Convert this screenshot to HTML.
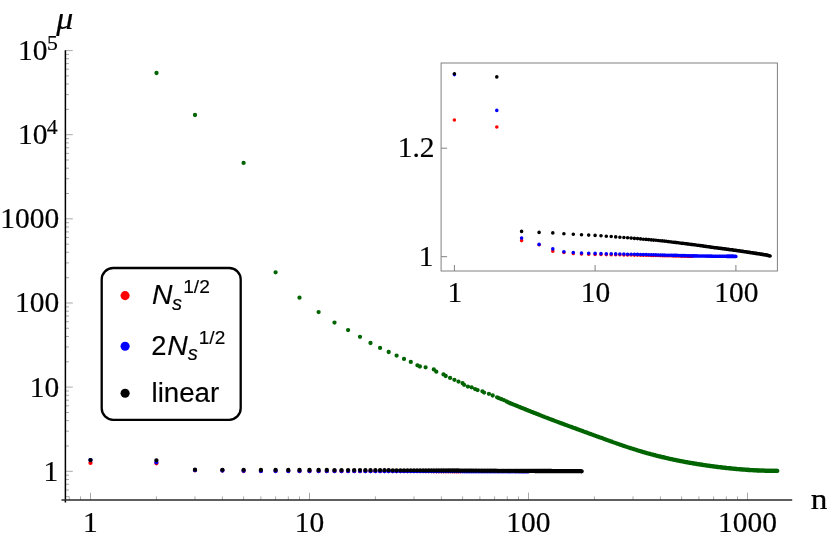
<!DOCTYPE html>
<html>
<head>
<meta charset="utf-8">
<title>mu vs n</title>
<style>
html,body{margin:0;padding:0;background:#fff;}
body{width:830px;height:540px;overflow:hidden;font-family:"Liberation Serif",serif;}
svg{display:block;}
</style>
</head>
<body>
<svg width="830" height="540" viewBox="0 0 830 540">
<rect width="830" height="540" fill="#fff"/>
<path d="M65.4 471.3h7.4M65.4 446h3.6M65.4 431.2h3.6M65.4 420.6h3.6M65.4 412.5h3.6M65.4 405.8h3.6M65.4 400.2h3.6M65.4 395.3h3.6M65.4 391h3.6M65.4 387.1h7.4M65.4 361.8h3.6M65.4 347h3.6M65.4 336.5h3.6M65.4 328.3h3.6M65.4 321.7h3.6M65.4 316h3.6M65.4 311.2h3.6M65.4 306.9h3.6M65.4 303h7.4M65.4 277.7h3.6M65.4 262.9h3.6M65.4 252.3h3.6M65.4 244.2h3.6M65.4 237.5h3.6M65.4 231.9h3.6M65.4 227h3.6M65.4 222.7h3.6M65.4 218.8h7.4M65.4 193.5h3.6M65.4 178.7h3.6M65.4 168.2h3.6M65.4 160h3.6M65.4 153.4h3.6M65.4 147.7h3.6M65.4 142.9h3.6M65.4 138.6h3.6M65.4 134.7h7.4M65.4 109.4h3.6M65.4 94.6h3.6M65.4 84h3.6M65.4 75.9h3.6M65.4 69.2h3.6M65.4 63.6h3.6M65.4 58.7h3.6M65.4 54.4h3.6M65.4 50.6h7.4M65.4 496.6h3.6M65.4 490h3.6M65.4 484.3h3.6M65.4 479.5h3.6M65.4 475.2h3.6M90.5 500v-7.4M156.4 500v-3.6M195 500v-3.6M222.4 500v-3.6M243.6 500v-3.6M260.9 500v-3.6M275.6 500v-3.6M288.3 500v-3.6M299.5 500v-3.6M309.5 500v-7.4M375.4 500v-3.6M414 500v-3.6M441.4 500v-3.6M462.6 500v-3.6M479.9 500v-3.6M494.6 500v-3.6M507.3 500v-3.6M518.5 500v-3.6M528.5 500v-7.4M594.4 500v-3.6M633 500v-3.6M660.4 500v-3.6M681.6 500v-3.6M698.9 500v-3.6M713.6 500v-3.6M726.3 500v-3.6M737.5 500v-3.6M747.5 500v-7.4M69.3 500v-3.6M80.5 500v-3.6" stroke="#707070" stroke-width="0.6" fill="none"/>
<g fill="none" stroke-linecap="round" stroke-width="4.3">
<path stroke="#006400" d="M156.5 73h0M195 115h0M243.6 162.9h0M275.6 272.3h0M299.5 297.7h0M318.6 312.1h0M334.5 322.6h0M348.1 330.1h0M360 336.8h0M370.5 343h0M380.1 347.9h0M388.7 352h0M396.6 355.6h0M404 358.9h0M410.8 361.9h0M417.4 365.3h0M419.9 366.5h0M425.6 367.3h0M433.8 369.4h0M436.3 371.7h0M443.5 374.4h0M445.7 376h0M450.1 377.9h0M454.4 379.8h0M458.5 381.6h0M462.6 383.2h0M464.1 384.8h0M467.9 386.6h0M471.6 387.3h0M475.1 389.1h0M477.6 390.1h0M482.4 391.3h0M484.1 392.6h0M488.9 393.8h0M492.7 395.5h0M497.1 397.3h0M498.9 398.2h0M501.4 399.2h0M503.9 400.1h0M506.5 401.4h0M508.3 402.4h0M509.6 403h0M510.8 403.5h0M511.9 403.9h0M513 404.4h0M514.2 404.8h0M515.3 405.3h0M516.3 405.7h0M517.4 406.2h0M518.5 406.6h0M519.5 407.1h0M520.6 407.5h0M521.6 407.9h0M522.6 408.3h0M523.6 408.7h0M524.6 409.1h0M525.6 409.5h0M526.6 409.9h0M527.5 410.3h0M528.5 410.7h0M529.4 411.1h0M530.4 411.4h0M531.3 411.8h0M532.2 412.2h0M533.1 412.5h0M534 412.9h0M534.9 413.2h0M535.8 413.6h0M536.7 413.9h0M537.6 414.2h0M538.4 414.6h0M539.3 414.9h0M540.1 415.2h0M541 415.6h0M541.8 415.9h0M542.6 416.2h0M543.4 416.5h0M544.2 416.8h0M545 417.1h0M545.8 417.4h0M546.6 417.7h0M547.4 418h0M548.2 418.3h0M549 418.6h0M549.7 418.9h0M550.5 419.2h0M551.2 419.5h0M552 419.8h0M552.7 420h0M553.5 420.3h0M554.2 420.6h0M554.9 420.9h0M555.6 421.1h0M556.3 421.4h0M557 421.7h0M557.7 421.9h0M558.4 422.2h0M559.1 422.5h0M559.8 422.7h0M560.5 423h0M561.2 423.2h0M561.9 423.5h0M562.5 423.7h0M563.2 424h0M563.8 424.2h0M564.5 424.5h0M565.1 424.7h0M565.8 424.9h0M566.4 425.2h0M567.1 425.4h0M567.7 425.6h0M568.3 425.9h0M568.9 426.1h0M569.6 426.3h0M570.2 426.6h0M570.8 426.8h0M571.4 427h0M572 427.2h0M572.6 427.5h0M573.2 427.7h0M573.8 427.9h0M574.4 428.1h0M575 428.3h0M575.6 428.5h0M576.1 428.8h0M576.7 429h0M577.3 429.2h0M577.8 429.4h0M578.4 429.6h0M579 429.8h0M579.5 430h0M580.1 430.2h0M580.6 430.4h0M581.2 430.6h0M581.7 430.8h0M582.3 431h0M582.8 431.2h0M583.3 431.4h0M583.9 431.6h0M584.4 431.8h0M584.9 432h0M585.5 432.2h0M586 432.4h0M586.5 432.5h0M587 432.7h0M587.5 432.9h0M588 433.1h0M588.5 433.3h0M589 433.5h0M589.5 433.7h0M590 433.8h0M590.5 434h0M591 434.2h0M591.5 434.4h0M592 434.6h0M592.5 434.7h0M593 434.9h0M593.5 435.1h0M593.9 435.3h0M594.4 435.4h0M594.9 435.6h0M595.4 435.8h0M595.8 435.9h0M596.3 436.1h0M596.8 436.3h0M597.2 436.5h0M597.7 436.6h0M598.2 436.8h0M598.6 437h0M599.1 437.1h0M599.5 437.3h0M600.4 437.6h0M601.3 437.9h0M602.2 438.2h0M603.1 438.6h0M603.9 438.9h0M604.8 439.2h0M605.6 439.5h0M606.5 439.8h0M607.3 440.1h0M608.1 440.4h0M609 440.7h0M609.8 441h0M610.6 441.3h0M611.4 441.5h0M612.2 441.8h0M612.9 442.1h0M613.7 442.4h0M614.5 442.7h0M615.3 442.9h0M616 443.2h0M616.8 443.5h0M617.5 443.7h0M618.3 444h0M619 444.2h0M619.7 444.5h0M620.5 444.7h0M621.2 445h0M621.9 445.2h0M622.6 445.5h0M623.3 445.7h0M624 446h0M624.7 446.2h0M625.4 446.4h0M626.1 446.7h0M626.8 446.9h0M627.4 447.1h0M628.1 447.3h0M628.8 447.6h0M629.4 447.8h0M630.1 448h0M630.7 448.2h0M631.4 448.4h0M632 448.6h0M632.7 448.8h0M633.3 449h0M633.9 449.2h0M634.6 449.4h0M635.2 449.6h0M635.8 449.8h0M636.4 450h0M637 450.2h0M637.6 450.4h0M638.2 450.6h0M638.8 450.8h0M639.4 450.9h0M640 451.1h0M640.6 451.3h0M641.2 451.5h0M641.8 451.6h0M642.3 451.8h0M642.9 452h0M643.5 452.2h0M644.1 452.3h0M644.6 452.5h0M645.2 452.6h0M645.7 452.8h0M646.3 453h0M646.8 453.1h0M647.4 453.3h0M647.9 453.4h0M648.5 453.6h0M649 453.7h0M649.5 453.9h0M650.1 454h0M650.6 454.2h0M651.1 454.3h0M651.6 454.4h0M652.2 454.6h0M652.7 454.7h0M653.2 454.8h0M653.7 455h0M654.2 455.1h0M654.7 455.2h0M655.2 455.4h0M655.7 455.5h0M656.2 455.6h0M656.7 455.8h0M657.2 455.9h0M657.7 456h0M658.2 456.1h0M658.7 456.3h0M659.2 456.4h0M659.6 456.5h0M660.1 456.6h0M660.6 456.7h0M661.1 456.8h0M661.5 457h0M662 457.1h0M662.5 457.2h0M662.9 457.3h0M663.4 457.4h0M663.9 457.5h0M664.3 457.6h0M664.8 457.7h0M665.2 457.8h0M665.7 457.9h0M666.3 458.1h0M667 458.2h0M667.7 458.4h0M668.3 458.5h0M669 458.7h0M669.6 458.8h0M670.3 459h0M670.9 459.1h0M671.6 459.2h0M672.2 459.4h0M672.8 459.5h0M673.4 459.7h0M674.1 459.8h0M674.7 459.9h0M675.3 460h0M675.9 460.2h0M676.5 460.3h0M677.1 460.4h0M677.7 460.5h0M678.3 460.7h0M678.9 460.8h0M679.5 460.9h0M680 461h0M680.6 461.1h0M681.2 461.2h0M681.8 461.3h0M682.3 461.4h0M682.9 461.6h0M683.5 461.7h0M684 461.8h0M684.6 461.9h0M685.1 462h0M685.7 462.1h0M686.2 462.2h0M686.8 462.3h0M687.3 462.4h0M687.8 462.5h0M688.4 462.6h0M688.9 462.7h0M689.4 462.8h0M689.9 462.8h0M690.5 462.9h0M691 463h0M691.5 463.1h0M692 463.2h0M692.5 463.3h0M693 463.4h0M693.5 463.5h0M694 463.5h0M694.5 463.6h0M695 463.7h0M695.5 463.8h0M696 463.9h0M696.5 464h0M697 464h0M697.5 464.1h0M698 464.2h0M698.4 464.3h0M698.9 464.3h0M699.4 464.4h0M699.9 464.5h0M700.3 464.6h0M700.8 464.6h0M701.3 464.7h0M701.7 464.8h0M702.2 464.9h0M702.6 464.9h0M703.1 465h0M703.6 465.1h0M704 465.1h0M704.6 465.2h0M705.2 465.3h0M705.8 465.4h0M706.4 465.5h0M707 465.6h0M707.5 465.6h0M708.1 465.7h0M708.7 465.8h0M709.3 465.9h0M709.8 466h0M710.4 466h0M711 466.1h0M711.5 466.2h0M712.1 466.3h0M712.6 466.3h0M713.2 466.4h0M713.7 466.5h0M714.3 466.6h0M714.8 466.6h0M715.3 466.7h0M715.9 466.8h0M716.4 466.8h0M716.9 466.9h0M717.4 467h0M718 467h0M718.5 467.1h0M719 467.2h0M719.5 467.2h0M720 467.3h0M720.5 467.4h0M721 467.4h0M721.5 467.5h0M722 467.5h0M722.5 467.6h0M723 467.6h0M723.5 467.7h0M724 467.8h0M724.5 467.8h0M725 467.9h0M725.4 467.9h0M725.9 468h0M726.4 468h0M726.9 468.1h0M727.3 468.1h0M727.8 468.2h0M728.3 468.2h0M728.7 468.3h0M729.2 468.3h0M729.7 468.4h0M730.1 468.4h0M730.6 468.5h0M731 468.5h0M731.5 468.6h0M732 468.6h0M732.6 468.7h0M733.2 468.7h0M733.7 468.8h0M734.3 468.8h0M734.8 468.9h0M735.3 468.9h0M735.9 469h0M736.4 469h0M736.9 469.1h0M737.5 469.1h0M738 469.2h0M738.5 469.2h0M739.1 469.3h0M739.6 469.3h0M740.1 469.4h0M740.6 469.4h0M741.1 469.4h0M741.6 469.5h0M742.1 469.5h0M742.6 469.6h0M743.1 469.6h0M743.6 469.6h0M744.1 469.7h0M744.6 469.7h0M745.1 469.7h0M745.6 469.8h0M746.1 469.8h0M746.5 469.9h0M747 469.9h0M747.5 469.9h0M748 470h0M748.4 470h0M748.9 470h0M749.4 470h0M749.8 470.1h0M750.3 470.1h0M750.8 470.1h0M751.2 470.2h0M751.7 470.2h0M752.1 470.2h0M752.6 470.2h0M753.1 470.3h0M753.7 470.3h0M754.2 470.3h0M754.7 470.4h0M755.3 470.4h0M755.8 470.4h0M756.3 470.4h0M756.8 470.5h0M757.3 470.5h0M757.9 470.5h0M758.4 470.5h0M758.9 470.6h0M759.4 470.6h0M759.9 470.6h0M760.4 470.6h0M760.9 470.6h0M761.4 470.6h0M761.9 470.7h0M762.4 470.7h0M762.8 470.7h0M763.3 470.7h0M763.8 470.7h0M764.3 470.7h0M764.8 470.8h0M765.2 470.8h0M765.7 470.8h0M766.2 470.8h0M766.6 470.8h0M767.1 470.8h0M767.6 470.8h0M768 470.8h0M768.5 470.9h0M769 470.9h0M769.4 470.9h0M769.9 470.9h0M770.3 470.9h0M770.8 470.9h0M771.3 470.9h0M771.9 470.9h0M772.4 470.9h0M772.9 470.9h0M773.4 470.9h0M773.9 470.9h0M774.4 470.9h0M774.9 470.9h0M775.4 470.9h0M775.9 470.9h0M776.4 470.9h0M776.9 470.9h0M777.3 470.9h0"/>
<path stroke="#f00" d="M90.5 462.9h0M156.4 463.3h0M195 470.3h0M222.4 470.6h0M243.6 471h0M260.9 471h0M275.6 471.1h0M288.3 471.1h0M299.5 471.2h0M309.5 471.2h0M318.6 471.2h0M326.8 471.2h0M334.5 471.2h0M341.5 471.2h0M348.1 471.2h0M354.2 471.2h0M360 471.2h0M365.4 471.2h0M370.5 471.2h0M375.4 471.2h0M380.1 471.2h0M384.5 471.2h0M388.7 471.2h0M392.8 471.2h0M396.6 471.2h0M400.4 471.2h0M404 471.2h0M407.4 471.2h0M410.8 471.2h0M414 471.2h0M417.1 471.2h0M420.1 471.2h0M423.1 471.2h0M425.9 471.2h0M428.7 471.2h0M431.3 471.2h0M433.9 471.3h0M436.5 471.3h0M438.9 471.3h0M441.4 471.3h0M443.7 471.3h0M446 471.3h0M448.2 471.3h0M450.4 471.3h0M452.6 471.3h0M454.6 471.3h0M456.7 471.3h0M458.7 471.3h0M460.7 471.3h0"/>
<path stroke="#00f" d="M90.5 460.1h0M156.4 462.3h0M195 470.2h0M222.4 470.5h0M243.6 470.8h0M260.9 471h0M275.6 471h0M288.3 471.1h0M299.5 471.1h0M309.5 471.1h0M318.6 471.1h0M326.8 471.1h0M334.5 471.1h0M341.5 471.1h0M348.1 471.1h0M354.2 471.1h0M360 471.1h0M365.4 471.2h0M370.5 471.2h0M375.4 471.2h0M380.1 471.2h0M384.5 471.2h0M388.7 471.2h0M392.8 471.2h0M396.6 471.2h0M400.4 471.2h0M404 471.2h0M407.4 471.2h0M410.8 471.2h0M414 471.2h0M417.1 471.2h0M420.1 471.2h0M423.1 471.2h0M425.9 471.2h0M428.7 471.2h0M431.3 471.2h0M433.9 471.2h0M436.5 471.2h0M438.9 471.2h0M441.4 471.2h0M443.7 471.2h0M446 471.2h0M448.2 471.2h0M450.4 471.2h0M452.6 471.2h0M454.6 471.2h0M456.7 471.2h0M458.7 471.2h0M460.7 471.2h0M462.6 471.3h0M464.5 471.3h0M466.3 471.3h0M468.1 471.3h0M469.9 471.3h0M471.6 471.3h0M473.4 471.3h0M475 471.3h0M476.7 471.3h0M478.3 471.3h0M479.9 471.3h0M481.5 471.3h0M483 471.3h0M484.6 471.3h0M486.1 471.3h0M487.5 471.3h0M489 471.3h0M490.4 471.3h0M491.8 471.3h0M493.2 471.3h0M494.6 471.3h0M495.9 471.3h0M497.3 471.3h0M498.6 471.3h0M499.9 471.3h0M501.1 471.3h0M502.4 471.3h0M503.6 471.3h0M504.9 471.3h0M506.1 471.3h0M507.3 471.3h0M508.5 471.3h0M509.6 471.3h0M510.8 471.3h0M511.9 471.3h0M513 471.3h0M514.2 471.3h0M515.3 471.3h0M516.3 471.3h0M517.4 471.3h0M518.5 471.3h0M519.5 471.3h0M520.6 471.3h0M521.6 471.3h0M522.6 471.3h0M523.6 471.3h0M524.6 471.3h0M525.6 471.3h0M526.6 471.3h0M527.5 471.3h0M528.5 471.3h0"/>
<path stroke="#000" d="M90.5 460.1h0M156.4 460.3h0M195 469.7h0M222.4 469.8h0M243.6 469.8h0M260.9 469.9h0M275.6 469.9h0M288.3 470h0M299.5 470h0M309.5 470h0M318.6 470h0M326.8 470h0M334.5 470.1h0M341.5 470.1h0M348.1 470.1h0M354.2 470.1h0M360 470.1h0M365.4 470.2h0M370.5 470.2h0M375.4 470.2h0M380.1 470.2h0M384.5 470.2h0M388.7 470.2h0M392.8 470.3h0M396.6 470.3h0M400.4 470.3h0M404 470.3h0M407.4 470.3h0M410.8 470.3h0M414 470.3h0M417.1 470.3h0M420.1 470.4h0M423.1 470.4h0M425.9 470.4h0M428.7 470.4h0M431.3 470.4h0M433.9 470.4h0M436.5 470.4h0M438.9 470.4h0M441.4 470.5h0M443.7 470.5h0M446 470.5h0M448.2 470.5h0M450.4 470.5h0M452.6 470.5h0M454.6 470.5h0M456.7 470.5h0M458.7 470.5h0M460.7 470.6h0M462.6 470.6h0M464.5 470.6h0M466.3 470.6h0M468.1 470.6h0M469.9 470.6h0M471.6 470.6h0M473.4 470.6h0M475 470.6h0M476.7 470.6h0M478.3 470.6h0M479.9 470.7h0M481.5 470.7h0M483 470.7h0M484.6 470.7h0M486.1 470.7h0M487.5 470.7h0M489 470.7h0M490.4 470.7h0M491.8 470.7h0M493.2 470.7h0M494.6 470.7h0M495.9 470.7h0M497.3 470.8h0M498.6 470.8h0M499.9 470.8h0M501.1 470.8h0M502.4 470.8h0M503.6 470.8h0M504.9 470.8h0M506.1 470.8h0M507.3 470.8h0M508.5 470.8h0M509.6 470.8h0M510.8 470.8h0M511.9 470.8h0M513 470.8h0M514.2 470.8h0M515.3 470.8h0M516.3 470.9h0M517.4 470.9h0M518.5 470.9h0M519.5 470.9h0M520.6 470.9h0M521.6 470.9h0M522.6 470.9h0M523.6 470.9h0M524.6 470.9h0M525.6 470.9h0M526.6 470.9h0M527.5 470.9h0M528.5 470.9h0M529.4 470.9h0M530.4 470.9h0M531.3 470.9h0M532.2 470.9h0M533.1 470.9h0M534 470.9h0M534.9 471h0M535.8 471h0M536.7 471h0M537.6 471h0M538.4 471h0M539.3 471h0M540.1 471h0M541 471h0M541.8 471h0M542.6 471h0M543.4 471h0M544.2 471h0M545 471h0M545.8 471h0M546.6 471h0M547.4 471h0M548.2 471h0M549 471h0M549.7 471h0M550.5 471h0M551.2 471h0M552 471.1h0M552.7 471.1h0M553.5 471.1h0M554.2 471.1h0M554.9 471.1h0M555.6 471.1h0M556.3 471.1h0M557 471.1h0M557.7 471.1h0M558.4 471.1h0M559.1 471.1h0M559.8 471.1h0M560.5 471.1h0M561.2 471.1h0M561.9 471.1h0M562.5 471.1h0M563.2 471.1h0M563.8 471.1h0M564.5 471.1h0M565.1 471.1h0M565.8 471.1h0M566.4 471.1h0M567.1 471.1h0M567.7 471.1h0M568.3 471.2h0M568.9 471.2h0M569.6 471.2h0M570.2 471.2h0M570.8 471.2h0M571.4 471.2h0M572 471.2h0M572.6 471.2h0M573.2 471.2h0M573.8 471.2h0M574.4 471.2h0M575 471.2h0M575.6 471.2h0M576.1 471.2h0M576.7 471.2h0M577.3 471.2h0M577.8 471.2h0M578.4 471.2h0M579 471.2h0M579.5 471.2h0M580.1 471.2h0M580.6 471.2h0M581.2 471.3h0M581.7 471.3h0"/>
</g>
<path d="M65.4 50.2V502.4" stroke="#000" stroke-width="1.5" fill="none"/>
<path d="M61.5 500H792.2" stroke="#2a2a2a" stroke-width="1.6" fill="none"/>
<rect x="441.1" y="63" width="336.3" height="208" fill="#fff" stroke="#808080" stroke-width="1"/>
<path d="M441.1 256.7h6M441.1 148.2h6M454.4 271v-6M595.1 271v-6M735.9 271v-6" stroke="#808080" stroke-width="1" fill="none"/>
<g fill="none" stroke-linecap="round" stroke-width="3.6">
<path stroke="#f00" d="M454.4 120h0M496.8 127h0M521.6 240.6h0M539.1 244.7h0M552.8 251.2h0M563.9 252.5h0M573.3 253.4h0M581.5 254h0M588.7 254.3h0M595.1 254.4h0M601 254.5h0M606.3 254.6h0M611.2 254.7h0M615.7 254.7h0M619.9 254.8h0M623.9 254.9h0M627.6 254.9h0M631.1 255h0M634.4 255.1h0M637.5 255.1h0M640.5 255.2h0M643.3 255.2h0M646.1 255.3h0M648.7 255.3h0M651.2 255.4h0M653.6 255.4h0M655.9 255.5h0M658.1 255.5h0M660.2 255.6h0M662.3 255.6h0M664.3 255.7h0M666.2 255.7h0M668.1 255.8h0M670 255.8h0M671.7 255.8h0M673.4 255.9h0M675.1 255.9h0M676.8 255.9h0M678.3 256h0M679.9 256h0M681.4 256.1h0M682.9 256.1h0M684.3 256.1h0M685.7 256.1h0M687.1 256.2h0M688.4 256.2h0M689.7 256.2h0M691 256.3h0M692.3 256.3h0"/>
<path stroke="#00f" d="M454.4 74.6h0M496.8 110.4h0M521.6 238.1h0M539.1 244.4h0M552.8 248.9h0M563.9 251.7h0M573.3 252.5h0M581.5 253h0M588.7 253.3h0M595.1 253.4h0M601 253.6h0M606.3 253.7h0M611.2 253.8h0M615.7 253.9h0M619.9 254h0M623.9 254.1h0M627.6 254.2h0M631.1 254.3h0M634.4 254.3h0M637.5 254.4h0M640.5 254.5h0M643.3 254.6h0M646.1 254.6h0M648.7 254.7h0M651.2 254.8h0M653.6 254.8h0M655.9 254.9h0M658.1 255h0M660.2 255h0M662.3 255.1h0M664.3 255.1h0M666.2 255.2h0M668.1 255.2h0M670 255.3h0M671.7 255.3h0M673.4 255.4h0M675.1 255.4h0M676.8 255.4h0M678.3 255.5h0M679.9 255.5h0M681.4 255.6h0M682.9 255.6h0M684.3 255.6h0M685.7 255.7h0M687.1 255.7h0M688.4 255.8h0M689.7 255.8h0M691 255.8h0M692.3 255.9h0M693.5 255.9h0M694.7 255.9h0M695.9 255.9h0M697.1 255.9h0M698.2 256h0M699.4 256h0M700.5 256h0M701.5 256h0M702.6 256h0M703.6 256h0M704.7 256h0M705.7 256.1h0M706.7 256.1h0M707.7 256.1h0M708.6 256.1h0M709.6 256.1h0M710.5 256.1h0M711.4 256.1h0M712.3 256.2h0M713.2 256.2h0M714.1 256.2h0M715 256.2h0M715.8 256.2h0M716.7 256.2h0M717.5 256.2h0M718.3 256.2h0M719.1 256.2h0M719.9 256.3h0M720.7 256.3h0M721.5 256.3h0M722.3 256.3h0M723 256.3h0M723.8 256.3h0M724.5 256.3h0M725.2 256.3h0M726 256.3h0M726.7 256.4h0M727.4 256.4h0M728.1 256.4h0M728.8 256.4h0M729.5 256.4h0M730.1 256.4h0M730.8 256.4h0M731.5 256.4h0M732.1 256.4h0M732.8 256.4h0M733.4 256.4h0M734 256.5h0M734.7 256.5h0M735.3 256.5h0M735.9 256.5h0"/>
<path stroke="#000" d="M454.4 73.8h0M496.8 76.9h0M521.6 231.4h0M539.1 232.4h0M552.8 232.9h0M563.9 233.8h0M573.3 234.3h0M581.5 234.7h0M588.7 235.1h0M595.1 235.4h0M601 235.8h0M606.3 236.2h0M611.2 236.5h0M615.7 236.9h0M619.9 237.2h0M623.9 237.5h0M627.6 237.8h0M631.1 238.1h0M634.4 238.4h0M637.5 238.6h0M640.5 238.9h0M643.3 239.2h0M646.1 239.4h0M648.7 239.6h0M651.2 239.9h0M653.6 240.1h0M655.9 240.3h0M658.1 240.5h0M660.2 240.7h0M662.3 240.9h0M664.3 241.1h0M666.2 241.3h0M668.1 241.6h0M670 241.8h0M671.7 242h0M673.4 242.2h0M675.1 242.4h0M676.8 242.6h0M678.3 242.8h0M679.9 243h0M681.4 243.2h0M682.9 243.4h0M684.3 243.5h0M685.7 243.7h0M687.1 243.9h0M688.4 244h0M689.7 244.2h0M691 244.4h0M692.3 244.5h0M693.5 244.7h0M694.7 244.8h0M695.9 245h0M697.1 245.2h0M698.2 245.3h0M699.4 245.5h0M700.5 245.6h0M701.5 245.8h0M702.6 245.9h0M703.6 246.1h0M704.7 246.2h0M705.7 246.4h0M706.7 246.5h0M707.7 246.7h0M708.6 246.8h0M709.6 246.9h0M710.5 247.1h0M711.4 247.2h0M712.3 247.3h0M713.2 247.5h0M714.1 247.6h0M715 247.7h0M715.8 247.8h0M716.7 247.9h0M717.5 248h0M718.3 248.1h0M719.1 248.2h0M719.9 248.3h0M720.7 248.4h0M721.5 248.5h0M722.3 248.6h0M723 248.7h0M723.8 248.8h0M724.5 248.9h0M725.2 249h0M726 249.1h0M726.7 249.2h0M727.4 249.3h0M728.1 249.4h0M728.8 249.5h0M729.5 249.6h0M730.1 249.7h0M730.8 249.7h0M731.5 249.8h0M732.1 249.9h0M732.8 250h0M733.4 250.1h0M734 250.2h0M734.7 250.2h0M735.3 250.3h0M735.9 250.4h0M736.5 250.5h0M737.1 250.6h0M737.7 250.7h0M738.3 250.8h0M738.9 250.9h0M739.5 250.9h0M740 251h0M740.6 251.1h0M741.2 251.2h0M741.7 251.3h0M742.3 251.4h0M742.8 251.4h0M743.4 251.5h0M743.9 251.6h0M744.4 251.7h0M745 251.8h0M745.5 251.8h0M746 251.9h0M746.5 252h0M747 252.1h0M747.6 252.1h0M748.1 252.2h0M748.6 252.3h0M749 252.4h0M749.5 252.4h0M750 252.5h0M750.5 252.6h0M751 252.7h0M751.5 252.7h0M751.9 252.8h0M752.4 252.9h0M752.9 252.9h0M753.3 253h0M753.8 253.1h0M754.2 253.2h0M754.7 253.2h0M755.1 253.3h0M755.6 253.4h0M756 253.4h0M756.5 253.5h0M756.9 253.6h0M757.3 253.6h0M757.8 253.7h0M758.2 253.8h0M758.6 253.8h0M759 253.9h0M759.4 254h0M759.9 254h0M760.3 254.1h0M760.7 254.2h0M761.1 254.2h0M761.5 254.3h0M761.9 254.4h0M762.3 254.4h0M762.7 254.5h0M763.1 254.6h0M763.5 254.6h0M763.9 254.7h0M764.2 254.7h0M764.6 254.8h0M765 254.9h0M765.4 254.9h0M765.8 255h0M766.1 255.1h0M766.5 255.1h0M766.9 255.2h0M767.2 255.3h0M767.6 255.4h0M768 255.5h0M768.3 255.6h0M768.7 255.7h0M769.1 255.8h0M769.4 255.9h0M769.8 256h0M770.1 256h0"/>
</g>
<rect x="101.7" y="268" width="139" height="151.8" rx="11.5" ry="11.5" fill="#fff" stroke="#000" stroke-width="2.3"/>
<circle cx="125.1" cy="295.6" r="4.55" fill="#f00"/>
<circle cx="125.1" cy="346.2" r="4.55" fill="#00f"/>
<circle cx="125.1" cy="393.2" r="4.55" fill="#000"/>
<g font-family="Liberation Serif, serif" fill="#000" style="mix-blend-mode:multiply">
<text transform="translate(59.2 228.2) scale(1.035 1.0)" font-size="28.5" text-anchor="end" stroke="#000" stroke-width="0.2">1000</text>
<text transform="translate(59.2 312.3) scale(1.035 1.0)" font-size="28.5" text-anchor="end" stroke="#000" stroke-width="0.2">100</text>
<text transform="translate(59.2 396.5) scale(1.035 1.0)" font-size="28.5" text-anchor="end" stroke="#000" stroke-width="0.2">10</text>
<text transform="translate(58.2 480.6) scale(1.035 1.0)" font-size="28.5" text-anchor="end" stroke="#000" stroke-width="0.2">1</text>
<text transform="translate(47.6 60) scale(1.035 1.0)" font-size="28.5" text-anchor="end" stroke="#000" stroke-width="0.2">10</text>
<text transform="translate(47 50) scale(1.035 1.0)" font-size="21" stroke="#000" stroke-width="0.2">5</text>
<text transform="translate(47.6 144.1) scale(1.035 1.0)" font-size="28.5" text-anchor="end" stroke="#000" stroke-width="0.2">10</text>
<text transform="translate(46.8 134) scale(1.035 1.0)" font-size="21" stroke="#000" stroke-width="0.2">4</text>
<text transform="translate(90.4 532) scale(1.035 1.0)" font-size="28.5" text-anchor="middle" stroke="#000" stroke-width="0.2">1</text>
<text transform="translate(309.4 532) scale(1.035 1.0)" font-size="28.5" text-anchor="middle" stroke="#000" stroke-width="0.2">10</text>
<text transform="translate(528.4 532) scale(1.035 1.0)" font-size="28.5" text-anchor="middle" stroke="#000" stroke-width="0.2">100</text>
<text transform="translate(747.4 532) scale(1.035 1.0)" font-size="28.5" text-anchor="middle" stroke="#000" stroke-width="0.2">1000</text>
<text transform="translate(810.8 508.9) scale(1.17 1.0)" font-size="28.5" stroke="#000" stroke-width="0.2">n</text>
<text transform="translate(56.3 28.8) scale(1.13 1.05)" font-size="30" font-style="italic" stroke="#000" stroke-width="0.2">μ</text>
<text transform="translate(434.6 157.3) scale(1.035 1.0)" font-size="28.5" text-anchor="end" stroke="#000" stroke-width="0.2">1.2</text>
<text transform="translate(433.6 265.8) scale(1.035 1.0)" font-size="28.5" text-anchor="end" stroke="#000" stroke-width="0.2">1</text>
<text transform="translate(454.9 302.2) scale(1.035 1.0)" font-size="28.5" text-anchor="middle" stroke="#000" stroke-width="0.2">1</text>
<text transform="translate(595.6 302.2) scale(1.035 1.0)" font-size="28.5" text-anchor="middle" stroke="#000" stroke-width="0.2">10</text>
<text transform="translate(736.4 302.2) scale(1.035 1.0)" font-size="28.5" text-anchor="middle" stroke="#000" stroke-width="0.2">100</text>
</g>
<g font-family="Liberation Sans, sans-serif" fill="#000" style="mix-blend-mode:multiply">
<text transform="translate(152 303.8) scale(1.04 1.0)" font-size="27.3" font-style="italic" stroke="#000" stroke-width="0.15">N</text>
<text transform="translate(172 309.5) scale(1.0 1.0)" font-size="20.2" font-style="italic" stroke="#000" stroke-width="0.15">s</text>
<text transform="translate(183.2 292.8) scale(1.055 1.0)" font-size="18.2" stroke="#000" stroke-width="0.15">1/2</text>
<text transform="translate(151.3 354.6) scale(1.0 1.0)" font-size="27.3" stroke="#000" stroke-width="0.15">2</text>
<text transform="translate(167.2 354.6) scale(1.04 1.0)" font-size="27.3" font-style="italic" stroke="#000" stroke-width="0.15">N</text>
<text transform="translate(187.7 359.9) scale(1.0 1.0)" font-size="20.2" font-style="italic" stroke="#000" stroke-width="0.15">s</text>
<text transform="translate(198.8 343.8) scale(1.045 1.0)" font-size="18.2" stroke="#000" stroke-width="0.15">1/2</text>
<text transform="translate(151.5 401.7) scale(1.026 1.0)" font-size="27" stroke="#000" stroke-width="0.15">linear</text>
</g>
</svg>
</body>
</html>
